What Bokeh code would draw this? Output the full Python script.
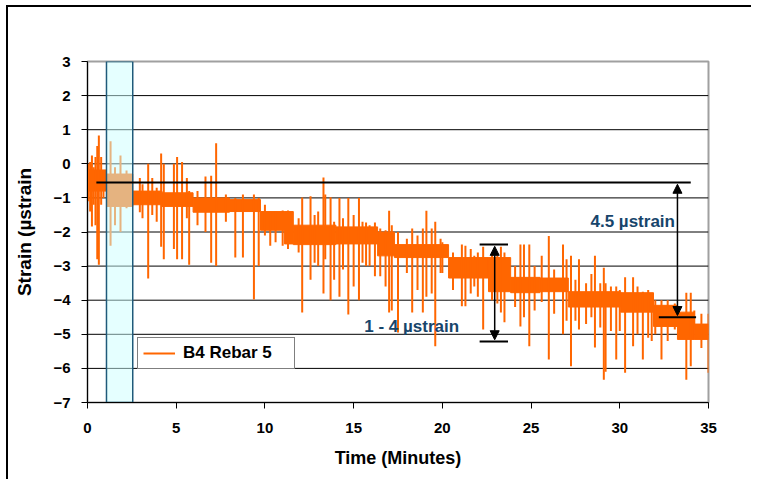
from bokeh.plotting import figure
from bokeh.models import FixedTicker, Arrow, NormalHead, Legend, LegendItem, Range1d
from bokeh.embed import file_html
from bokeh.resources import INLINE
from bokeh.core.properties import value

# ---- data ----
band_start = [0.0, 1.07, 2.55, 4.2, 5.95, 8.0, 9.75, 11.1, 11.6, 14.0, 16.35, 17.3, 20.35, 22.6, 23.85, 25.5, 27.1, 30.05, 31.9, 33.25, 34.2]
band_end   = [1.07, 2.55, 4.2, 5.95, 8.0, 9.75, 11.1, 11.6, 14.0, 16.35, 17.3, 20.35, 22.6, 23.85, 25.5, 27.1, 30.05, 31.9, 33.25, 34.2, 35.0]
band_high  = [-0.18, -0.3, -0.8, -0.85, -1.0, -1.05, -1.4, -1.4, -1.8, -1.85, -2.0, -2.37, -2.75, -2.75, -3.33, -3.35, -3.75, -3.78, -4.15, -4.35, -4.7]
band_low   = [-0.8, -1.25, -1.2, -1.25, -1.42, -1.4, -1.95, -2.35, -2.37, -2.35, -2.7, -2.75, -3.35, -3.75, -3.78, -3.75, -4.2, -4.35, -4.77, -5.15, -5.15]

spike_time = [0.15, 0.25, 0.45, 0.55, 0.64, 0.77, 1.3, 1.55, 1.86, 2.2, 2.95, 3.42, 3.65, 4.15, 4.3,
              4.87, 5.05, 5.33, 5.6, 5.73, 6.65, 6.97, 7.25, 8.33, 8.76, 9.38, 9.65, 10.3,
              12.1, 12.57, 13.0, 13.3, 13.4, 13.7, 14.2, 14.7, 15.3, 15.7, 16.2, 17.0, 17.15,
              17.5, 18.3, 18.9, 19.1, 19.4, 19.6, 20.0, 21.1, 21.3, 21.8, 22.3, 23.3, 23.5,
              24.4, 24.6, 24.9, 25.6, 26.0, 26.8, 27.0, 27.25, 27.7, 28.4, 28.6, 29.1, 29.2,
              29.8, 30.3, 30.75, 31.3, 31.8, 32.35, 33.1, 33.75, 34.0, 34.2, 35.0,
              0.05, 0.35, 0.9, 3.1, 3.9, 6.2, 7.8, 10.0, 10.6, 11.0, 11.3, 11.9, 12.8, 13.9,
              14.4, 15.0, 15.5, 15.9, 16.5, 16.8, 18.0, 18.6, 19.9, 20.6, 21.6, 22.0, 22.8,
              23.1, 24.1, 25.2, 26.3, 27.5, 28.1, 28.9, 29.5, 30.0, 31.0, 31.6, 32.0, 32.7, 34.6]
spike_high = [0.05, 0.24, 0.2, 0.52, 0.83, 0.2, 0.66, -0.1, 0.24, -0.2, -0.42, 0.0, -0.42, 0.3, 0.0,
              0.0, 0.2, 0.05, -0.42, -0.8, -0.37, -0.35, 0.6, -1.0, -0.9, -0.9, -1.0, -1.4,
              -0.99, -0.95, -1.4, -0.4, -0.9, -0.98, -1.0, -1.0, -1.0, -1.72, -1.72, -1.38, -1.8,
              -2.0, -1.9, -1.9, -1.38, -1.9, -1.7, -2.3, -2.37, -2.4, -2.7, -2.43, -2.43, -2.6,
              -2.37, -2.37, -2.37, -2.7, -2.12, -2.37, -2.8, -2.7, -2.8, -3.23, -2.7, -3.05, -3.5,
              -3.6, -3.33, -3.33, -3.75, -3.8, -4.0, -4.1, -3.78, -3.78, -4.3, -4.4,
              0.0, -0.1, -0.2, -0.6, -0.7, -0.8, -0.9, -1.2, -1.4, -1.37, -1.37, -1.6, -1.5, -1.7,
              -1.6, -1.5, -1.7, -1.8, -1.9, -1.95, -2.2, -2.1, -2.2, -2.6, -2.5, -2.6, -2.6,
              -2.7, -3.0, -3.0, -3.1, -3.4, -3.5, -3.5, -3.6, -3.7, -3.6, -3.7, -4.0, -4.0, -4.4]
spike_low  = [-1.4, -1.84, -1.8, -2.8, -2.96, -1.2, -2.4, -1.8, -2.0, -1.3, -1.42, -3.36, -1.5, -2.43, -2.8,
              -2.5, -2.8, -2.8, -1.6, -2.96, -2.0, -2.9, -3.0, -2.75, -2.75, -3.98, -3.0, -2.4,
              -4.36, -3.4, -3.0, -3.8, -2.8, -4.0, -3.9, -4.42, -4.0, -3.0, -3.3, -4.36, -4.3,
              -4.95, -4.36, -4.36, -3.9, -3.8, -5.35, -3.2, -4.18, -4.18, -3.6, -4.86, -4.36, -4.65,
              -4.77, -4.5, -5.35, -4.05, -5.74, -5.0, -4.6, -5.94, -4.86, -4.5, -5.39, -6.33, -6.1,
              -5.74, -6.13, -5.35, -5.74, -5.2, -5.74, -4.86, -6.33, -5.94, -4.86, -6.13,
              -1.1, -1.2, -1.0, -1.6, -1.7, -1.8, -1.7, -2.1, -2.3, -2.4, -2.5, -2.6, -2.9, -3.4,
              -3.1, -3.6, -2.9, -3.0, -3.3, -3.6, -3.2, -3.7, -3.2, -3.7, -3.8, -3.9, -4.0,
              -4.1, -4.2, -4.3, -4.4, -4.6, -4.7, -4.8, -4.9, -4.9, -5.0, -5.1, -5.0, -5.2, -5.4]

x_ticks = [0, 5, 10, 15, 20, 25, 30, 35]
y_ticks = [-7, -6, -5, -4, -3, -2, -1, 0, 1, 2, 3]
grid_levels = [-6, -5, -4, -3, -2, -1, 0, 1, 2]

highlight_start = [1.07]
highlight_end = [2.55]

ref_line_x = [0.5, 34.0]
ref_level = -0.55
drop_arrow_x = 33.25
drop_levels = [-0.55, -4.5]
drop_cap_x = [32.2, 34.3]
range_arrow_x = 22.95
range_levels = [-2.37, -5.21]
range_cap_x = [22.1, 23.7]

note_text = ["4.5 µstrain", "1 - 4 µstrain"]
note_x = [28.35, 15.6]
note_y = [-1.69, -4.77]

ORANGE = "#FF6600"
FONT = "Liberation Sans"

p = figure(width=745, height=474, output_backend="svg", toolbar_location=None,
           x_range=Range1d(0, 35), y_range=Range1d(-7, 3),
           min_border_left=79, min_border_right=45, min_border_top=54, min_border_bottom=79)
p.styles = {"border-top": "2px solid black", "border-left": "2px solid black",
            "margin-left": "6px", "margin-top": "5px"}

p.xgrid.visible = False
p.ygrid.visible = False

# gridlines
p.segment(x0=[0] * len(grid_levels), x1=[35] * len(grid_levels), y0=grid_levels, y1=grid_levels,
          line_color="black", line_width=1)

p.outline_line_color = "#A0A0A0"
p.outline_line_width = 2

for ax, ticks in ((p.xaxis[0], x_ticks), (p.yaxis[0], y_ticks)):
    ax.ticker = FixedTicker(ticks=ticks)
    ax.axis_line_color = "black"
    ax.axis_line_width = 1
    ax.major_tick_in = 0
    ax.major_tick_out = 6
    ax.minor_tick_line_color = None
    ax.major_tick_line_color = "black"
    ax.major_label_text_font = FONT
    ax.major_label_text_font_style = "bold"
    ax.major_label_text_font_size = "15px"
    ax.major_label_text_color = "black"
    ax.axis_label_text_font = FONT
    ax.axis_label_text_font_style = "bold"
    ax.axis_label_text_font_size = "18px"
    ax.axis_label_text_color = "black"

p.xaxis.axis_label = "Time (Minutes)"
p.xaxis.major_label_standoff = 14
p.xaxis.axis_label_standoff = 12
p.yaxis.axis_label = "Strain (µstrain"
p.yaxis.axis_label_text_font_size = "19px"
p.yaxis.major_label_standoff = 11
p.yaxis.axis_label_standoff = 15

# data series: dense band + spikes
p.quad(left=band_start, right=band_end, bottom=band_low, top=band_high,
       fill_color=ORANGE, line_color=ORANGE, line_width=1)
spikes = p.segment(x0=spike_time, x1=spike_time, y0=spike_low, y1=spike_high,
                   line_color=ORANGE, line_width=2)

# highlighted window
p.quad(left=highlight_start, right=highlight_end, bottom=[-7], top=[3],
       fill_color="#CCFFFF", fill_alpha=0.5, line_color="#1F5A7A", line_width=1.5)

# annotations
p.line(x=ref_line_x, y=[ref_level, ref_level], line_color="black", line_width=2)
p.line(x=drop_cap_x, y=[drop_levels[1], drop_levels[1]], line_color="black", line_width=2)
p.line(x=range_cap_x, y=[range_levels[0], range_levels[0]], line_color="black", line_width=2)
p.line(x=range_cap_x, y=[range_levels[1], range_levels[1]], line_color="black", line_width=2)

p.add_layout(Arrow(start=NormalHead(size=9, fill_color="black", line_color="black"),
                   end=NormalHead(size=9, fill_color="black", line_color="black"),
                   x_start=drop_arrow_x, y_start=drop_levels[0] - 0.05,
                   x_end=drop_arrow_x, y_end=drop_levels[1] + 0.05,
                   line_color="black", line_width=1.5))
p.add_layout(Arrow(start=NormalHead(size=9, fill_color="black", line_color="black"),
                   end=NormalHead(size=9, fill_color="black", line_color="black"),
                   x_start=range_arrow_x, y_start=range_levels[0] - 0.05,
                   x_end=range_arrow_x, y_end=range_levels[1] + 0.05,
                   line_color="black", line_width=1.5))

p.text(x=note_x, y=note_y, text=note_text, text_font=value(FONT), text_font_style="bold",
       text_font_size="17px", text_color="#17456B", text_align="left", text_baseline="middle")

legend = Legend(items=[LegendItem(label="B4 Rebar 5", renderers=[spikes])],
                location=(50, 33), orientation="vertical")
legend.label_text_font = FONT
legend.label_text_font_style = "bold"
legend.label_text_font_size = "17px"
legend.label_text_color = "black"
legend.border_line_color = "black"
legend.border_line_width = 1
legend.background_fill_color = "white"
legend.background_fill_alpha = 1
legend.glyph_width = 32
legend.glyph_height = 20
legend.padding = 5
legend.margin = 0
legend.label_standoff = 8
legend.label_width = 106
legend.spacing = 0
p.add_layout(legend)

open("out.html", "w").write(file_html(p, INLINE))
